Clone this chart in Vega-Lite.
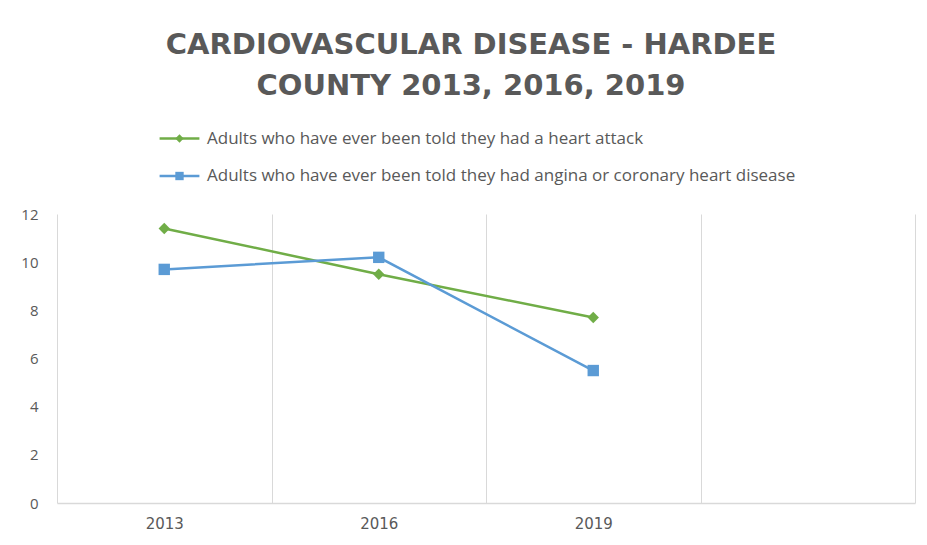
{
  "$schema": "https://vega.github.io/schema/vega-lite/v6.json",
  "width": 858,
  "height": 289,
  "autosize": "none",
  "padding": {"left": 57, "top": 214, "right": 12, "bottom": 42},
  "background": "#ffffff",
  "title": {
    "text": ["CARDIOVASCULAR DISEASE - HARDEE", "COUNTY 2013, 2016, 2019"],
    "font": "DejaVu Sans",
    "fontSize": 29,
    "fontWeight": "bold",
    "color": "#595959",
    "lineHeight": 41,
    "anchor": "middle",
    "dx": -15,
    "offset": 29
  },
  "config": {
    "view": {"stroke": null},
    "font": "Open Sans"
  },
  "data": {
    "values": [
      {"year": "2013", "series": "Adults who have ever been told they had a heart attack", "value": 11.4},
      {"year": "2016", "series": "Adults who have ever been told they had a heart attack", "value": 9.5},
      {"year": "2019", "series": "Adults who have ever been told they had a heart attack", "value": 7.7},
      {"year": "2013", "series": "Adults who have ever been told they had angina or coronary heart disease", "value": 9.7},
      {"year": "2016", "series": "Adults who have ever been told they had angina or coronary heart disease", "value": 10.2},
      {"year": "2019", "series": "Adults who have ever been told they had angina or coronary heart disease", "value": 5.5}
    ]
  },
  "encoding": {
    "x": {
      "field": "year",
      "type": "ordinal",
      "bandPosition": 0.5,
      "scale": {"type": "band", "domain": ["2013", "2016", "2019", "2022"], "paddingInner": 0, "paddingOuter": 0},
      "axis": {
        "title": null,
        "labelAngle": 0,
        "labelExpr": "datum.value == '2022' ? '' : datum.value",
        "tickBand": "extent",
        "ticks": false,
        "grid": true,
        "gridColor": "#D9D9D9",
        "gridWidth": 1,
        "domainColor": "#D9D9D9",
        "domainWidth": 1.5,
        "labelFont": "DejaVu Sans",
        "labelFontSize": 15,
        "labelColor": "#595959",
        "labelPadding": 13
      }
    },
    "y": {
      "field": "value",
      "type": "quantitative",
      "scale": {"domain": [0, 12], "nice": false},
      "axis": {
        "title": null,
        "values": [0, 2, 4, 6, 8, 10, 12],
        "grid": false,
        "domain": false,
        "ticks": false,
        "labelFont": "Open Sans",
        "labelFontSize": 15,
        "labelColor": "#595959",
        "labelPadding": 19
      }
    },
    "color": {
      "field": "series",
      "type": "nominal",
      "scale": {
        "domain": ["Adults who have ever been told they had a heart attack", "Adults who have ever been told they had angina or coronary heart disease"],
        "range": ["#70AD47", "#5B9BD5"]
      }
    }
  },
  "layer": [
    {
      "mark": {"type": "line", "strokeWidth": 2.5},
      "encoding": {
        "color": {
          "field": "series",
          "type": "nominal",
          "legend": {
            "title": null,
            "orient": "none",
            "legendX": 114,
            "legendY": -84,
            "direction": "vertical",
            "symbolType": "M-4.76,0H4.76",
            "symbolSize": 70,
            "symbolStrokeWidth": 2.5,
            "rowPadding": 19.5,
            "labelFont": "Open Sans",
            "labelFontSize": 17,
            "labelColor": "#595959",
            "labelOffset": 19,
            "labelLimit": 800,
            "padding": 0
          }
        }
      }
    },
    {
      "mark": {"type": "point", "filled": true, "size": 130, "opacity": 1},
      "encoding": {
        "shape": {
          "field": "series",
          "type": "nominal",
          "scale": {
            "domain": ["Adults who have ever been told they had a heart attack", "Adults who have ever been told they had angina or coronary heart disease"],
            "range": ["diamond", "square"]
          },
          "legend": {
            "title": null,
            "orient": "none",
            "legendX": 114,
            "legendY": -84,
            "direction": "vertical",
            "symbolSize": 70,
            "symbolStrokeWidth": 0,
            "rowPadding": 19.5,
            "labelFont": "Open Sans",
            "labelFontSize": 17,
            "labelOpacity": 0,
            "labelOffset": 19,
            "labelLimit": 800,
            "padding": 0
          }
        },
        "color": {
          "field": "series",
          "type": "nominal",
          "legend": {
            "title": null,
            "orient": "none",
            "legendX": 114,
            "legendY": -84,
            "direction": "vertical",
            "symbolSize": 70,
            "symbolStrokeWidth": 0,
            "rowPadding": 19.5,
            "labelFont": "Open Sans",
            "labelFontSize": 17,
            "labelOpacity": 0,
            "labelOffset": 19,
            "labelLimit": 800,
            "padding": 0
          }
        }
      }
    }
  ],
  "resolve": {"legend": {"color": "independent", "shape": "independent"}}
}
